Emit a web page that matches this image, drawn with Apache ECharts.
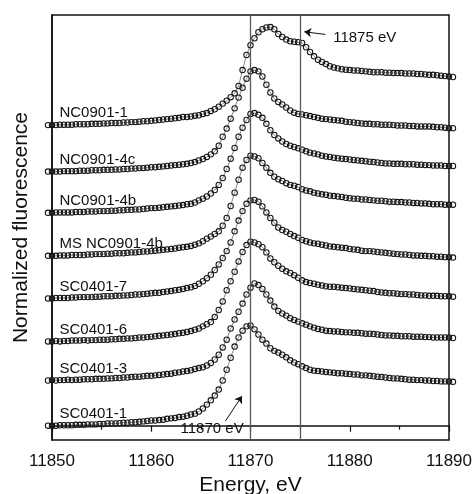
<!DOCTYPE html>
<html>
<head>
<meta charset="utf-8">
<script src="https://cdn.jsdelivr.net/npm/echarts@6/dist/echarts.min.js"></script>
<style>
  html, body { margin: 0; padding: 0; background: #fff; }
  #chart { width: 476px; height: 494px; }
</style>
</head>
<body>
<div id="chart"></div>
<script>
// Scan grid: 0.4 eV steps from 11849.6 to 11890.4 eV
const energy = [];
for (let i = 0; i < 103; i++) energy.push(+(11849.6 + 0.4 * i).toFixed(1));

// Normalized fluorescence of each sample (one value per scan point)
const sc0401_1 = [
  0.00,0.00,0.00,0.01,0.01,0.01,0.01,0.02,0.02,0.02,
  0.03,0.03,0.03,0.04,0.04,0.05,0.05,0.05,0.06,0.07,
  0.07,0.08,0.08,0.09,0.10,0.11,0.12,0.12,0.13,0.14,
  0.16,0.17,0.18,0.20,0.21,0.23,0.26,0.28,0.33,0.40,
  0.49,0.59,0.70,0.84,1.05,1.30,1.58,1.84,2.05,2.21,
  2.31,2.33,2.24,2.12,2.00,1.91,1.80,1.74,1.70,1.65,
  1.59,1.52,1.47,1.43,1.38,1.34,1.30,1.28,1.27,1.26,
  1.25,1.24,1.23,1.22,1.22,1.21,1.20,1.19,1.19,1.17,
  1.17,1.16,1.15,1.14,1.13,1.12,1.11,1.10,1.10,1.09,
  1.08,1.07,1.07,1.06,1.06,1.05,1.05,1.04,1.04,1.03,
  1.03,1.03,1.02];
const sc0401_3 = [
  0.00,0.01,0.00,0.01,0.01,0.02,0.01,0.02,0.02,0.03,
  0.03,0.03,0.04,0.04,0.04,0.05,0.05,0.06,0.06,0.07,
  0.07,0.08,0.09,0.09,0.10,0.11,0.11,0.12,0.13,0.14,
  0.15,0.16,0.18,0.19,0.21,0.22,0.24,0.27,0.29,0.31,
  0.35,0.41,0.49,0.60,0.77,0.95,1.21,1.42,1.60,1.79,
  2.00,2.16,2.26,2.22,2.13,2.00,1.86,1.72,1.62,1.56,
  1.51,1.45,1.41,1.37,1.33,1.30,1.26,1.23,1.20,1.18,
  1.16,1.15,1.14,1.14,1.13,1.12,1.12,1.11,1.11,1.10,
  1.09,1.09,1.08,1.07,1.06,1.05,1.05,1.04,1.04,1.03,
  1.03,1.03,1.02,1.02,1.02,1.01,1.01,1.00,1.00,1.00,
  1.00,1.00,0.99];
const sc0401_6 = [
  0.00,0.00,0.01,0.00,0.01,0.01,0.02,0.02,0.02,0.03,
  0.02,0.03,0.03,0.04,0.04,0.04,0.05,0.05,0.06,0.06,
  0.07,0.07,0.08,0.09,0.09,0.10,0.11,0.12,0.13,0.14,
  0.15,0.16,0.17,0.19,0.20,0.22,0.24,0.27,0.30,0.35,
  0.40,0.45,0.57,0.73,0.93,1.19,1.40,1.62,1.86,2.08,
  2.24,2.32,2.30,2.26,2.19,2.07,1.93,1.84,1.76,1.69,
  1.63,1.59,1.54,1.48,1.42,1.38,1.36,1.34,1.32,1.30,
  1.28,1.27,1.27,1.26,1.25,1.24,1.23,1.22,1.21,1.20,
  1.19,1.18,1.17,1.15,1.14,1.13,1.12,1.12,1.11,1.10,
  1.10,1.09,1.09,1.08,1.07,1.07,1.06,1.06,1.06,1.05,
  1.05,1.05,1.04];
const sc0401_7 = [
  0.00,0.00,0.01,0.01,0.01,0.01,0.02,0.02,0.03,0.03,
  0.03,0.03,0.04,0.04,0.05,0.05,0.05,0.06,0.06,0.07,
  0.07,0.08,0.09,0.09,0.10,0.11,0.12,0.13,0.13,0.15,
  0.16,0.17,0.19,0.20,0.22,0.24,0.26,0.29,0.34,0.40,
  0.47,0.55,0.66,0.79,0.94,1.10,1.30,1.56,1.81,2.03,
  2.20,2.28,2.29,2.25,2.14,2.00,1.87,1.76,1.65,1.59,
  1.55,1.50,1.45,1.41,1.36,1.33,1.30,1.28,1.27,1.25,
  1.23,1.21,1.20,1.19,1.18,1.17,1.15,1.14,1.13,1.11,
  1.10,1.10,1.09,1.08,1.07,1.06,1.05,1.04,1.03,1.02,
  1.02,1.01,1.00,1.00,0.99,0.99,0.98,0.98,0.97,0.97,
  0.96,0.96,0.95];
const ms_nc0901_4b = [
  0.00,0.00,0.00,0.01,0.01,0.01,0.02,0.02,0.02,0.02,
  0.03,0.03,0.04,0.04,0.04,0.05,0.05,0.06,0.06,0.06,
  0.07,0.08,0.08,0.09,0.10,0.10,0.11,0.12,0.13,0.14,
  0.15,0.16,0.17,0.19,0.20,0.21,0.23,0.26,0.29,0.34,
  0.40,0.45,0.51,0.57,0.70,0.88,1.16,1.47,1.77,2.05,
  2.23,2.33,2.31,2.27,2.16,2.05,1.93,1.84,1.78,1.74,
  1.69,1.65,1.63,1.60,1.55,1.52,1.50,1.47,1.45,1.43,
  1.42,1.40,1.39,1.38,1.37,1.35,1.34,1.33,1.33,1.31,
  1.31,1.30,1.29,1.28,1.28,1.27,1.26,1.26,1.25,1.25,
  1.24,1.24,1.23,1.23,1.22,1.22,1.21,1.20,1.20,1.20,
  1.19,1.19,1.19];
const nc0901_4b = [
  0.00,0.00,0.01,0.01,0.01,0.01,0.01,0.02,0.02,0.02,
  0.03,0.03,0.03,0.04,0.04,0.04,0.05,0.05,0.06,0.06,
  0.07,0.07,0.08,0.08,0.09,0.10,0.11,0.11,0.12,0.13,
  0.14,0.15,0.16,0.17,0.18,0.20,0.21,0.24,0.29,0.33,
  0.38,0.45,0.53,0.65,0.81,1.02,1.26,1.51,1.77,1.98,
  2.16,2.30,2.32,2.28,2.21,2.07,1.92,1.81,1.73,1.66,
  1.60,1.56,1.53,1.50,1.47,1.43,1.40,1.38,1.36,1.33,
  1.31,1.30,1.28,1.27,1.26,1.25,1.24,1.23,1.22,1.21,
  1.20,1.19,1.18,1.17,1.16,1.15,1.15,1.14,1.14,1.14,
  1.13,1.13,1.13,1.12,1.12,1.11,1.11,1.10,1.10,1.10,
  1.09,1.09,1.09];
const nc0901_4c = [
  0.00,0.00,0.00,0.00,0.01,0.01,0.01,0.01,0.02,0.02,
  0.02,0.03,0.03,0.03,0.04,0.04,0.04,0.05,0.05,0.06,
  0.06,0.07,0.07,0.08,0.08,0.09,0.10,0.10,0.11,0.12,
  0.13,0.14,0.15,0.16,0.17,0.18,0.20,0.22,0.26,0.29,
  0.34,0.40,0.47,0.60,0.81,1.00,1.23,1.47,1.72,1.95,
  2.16,2.33,2.36,2.33,2.21,2.02,1.84,1.70,1.62,1.56,
  1.49,1.42,1.37,1.34,1.33,1.31,1.29,1.27,1.25,1.23,
  1.22,1.21,1.20,1.19,1.18,1.16,1.15,1.14,1.13,1.12,
  1.11,1.11,1.10,1.10,1.09,1.09,1.09,1.08,1.07,1.07,
  1.07,1.06,1.06,1.05,1.05,1.05,1.05,1.04,1.03,1.03,
  1.02,1.01,1.01];
const nc0901_1 = [
  0.00,0.00,0.00,0.01,0.01,0.01,0.01,0.02,0.02,0.02,
  0.02,0.03,0.03,0.03,0.04,0.04,0.05,0.05,0.05,0.06,
  0.06,0.07,0.07,0.08,0.09,0.09,0.10,0.11,0.12,0.13,
  0.14,0.15,0.16,0.17,0.19,0.19,0.20,0.22,0.23,0.26,
  0.28,0.33,0.37,0.43,0.50,0.57,0.65,0.74,0.91,1.28,
  1.63,1.86,2.02,2.16,2.23,2.27,2.28,2.23,2.12,2.05,
  1.99,1.95,1.94,1.93,1.91,1.81,1.70,1.60,1.52,1.47,
  1.42,1.37,1.34,1.32,1.30,1.29,1.28,1.27,1.27,1.26,
  1.25,1.24,1.23,1.23,1.23,1.22,1.22,1.21,1.21,1.21,
  1.20,1.20,1.20,1.19,1.19,1.18,1.17,1.17,1.16,1.15,
  1.14,1.13,1.12];

// Sample names (bottom to top) and the vertical offset added to each trace
const sampleNames = ['SC0401-1', 'SC0401-3', 'SC0401-6', 'SC0401-7',
                     'MS NC0901-4b', 'NC0901-4b', 'NC0901-4c', 'NC0901-1'];
const sampleValues = [sc0401_1, sc0401_3, sc0401_6, sc0401_7,
                      ms_nc0901_4b, nc0901_4b, nc0901_4c, nc0901_1];
const offsets = [0, 1.05, 1.96, 2.96, 3.95, 4.95, 5.91, 6.99];

// Reference energies marked on the plot
const markerEnergies = [11870, 11875];
const xTicks = [11850, 11860, 11870, 11880, 11890];

const FONT = '"Liberation Sans", Arial, Helvetica, sans-serif';
const INK = '#111';

const series = sampleNames.map((name, k) => ({
  type: 'line',
  name: name,
  data: energy.map((e, i) => [e, +(sampleValues[k][i] + offsets[k]).toFixed(3)]),
  clip: false,
  symbol: 'circle',
  symbolSize: 5.4,
  showAllSymbol: true,
  lineStyle: { color: '#555', width: 0.7 },
  itemStyle: { color: 'rgba(255,255,255,0)', borderColor: '#141414', borderWidth: 1.05 },
  emphasis: { disabled: true },
  z: 3,
  markPoint: {
    silent: true,
    symbol: 'circle',
    symbolSize: 1,
    itemStyle: { color: 'rgba(0,0,0,0)' },
    label: {
      show: true, position: 'right', distance: 0,
      fontFamily: FONT, fontSize: 15, color: INK
    },
    data: [{ coord: [11850.7, offsets[k] + 0.28], label: { formatter: name } }]
  }
}));

// Vertical reference lines at the marked energies
series[0].markLine = {
  silent: true,
  symbol: 'none',
  label: { show: false },
  lineStyle: { color: '#5a5a5a', width: 1.3, type: 'solid' },
  data: markerEnergies.map(e => ({ xAxis: e }))
};

// Arrows pointing at the marked energies
series[1].markLine = {
  silent: true,
  symbol: ['none', 'arrow'],
  symbolSize: 7,
  label: { show: false },
  lineStyle: { color: INK, width: 1, type: 'solid' },
  data: [
    [{ coord: [11877.54, 9.10] }, { coord: [11875.42, 9.16] }],
    [{ coord: [11867.48, 0.11] }, { coord: [11869.14, 0.69] }]
  ]
};
series[1].markPoint.data.push(
  { coord: [11878.28, 9.02], label: { formatter: markerEnergies[1] + ' eV' } },
  { coord: [11862.90, -0.08], label: { formatter: markerEnergies[0] + ' eV' } }
);

const chart = echarts.init(document.getElementById('chart'), null, { renderer: 'canvas' });
chart.setOption({
  animation: false,
  backgroundColor: '#fff',
  grid: {
    left: 52, right: 27, top: 15, bottom: 54,
    containLabel: false,
    outerBoundsMode: 'none',
    show: true, borderColor: INK, borderWidth: 1.5, backgroundColor: 'rgba(0,0,0,0)'
  },
  xAxis: {
    type: 'value',
    min: xTicks[0], max: xTicks[xTicks.length - 1], interval: 10,
    name: 'Energy, eV',
    nameLocation: 'middle',
    nameGap: 32,
    nameTextStyle: { fontFamily: FONT, fontSize: 21, color: INK },
    axisLine: { show: true, lineStyle: { color: INK, width: 1.5 } },
    axisTick: { show: true, length: 6, inside: false, lineStyle: { color: INK, width: 1.2 } },
    minorTick: { show: true, splitNumber: 2, length: 4, lineStyle: { color: INK, width: 1.2 } },
    axisLabel: { fontFamily: FONT, fontSize: 17, color: INK, margin: 13,
                 formatter: v => String(v) },
    splitLine: { show: false }
  },
  yAxis: {
    type: 'value',
    min: -0.333, max: 9.551,
    name: 'Normalized fluorescence',
    nameLocation: 'middle',
    nameGap: 20,
    nameTextStyle: { fontFamily: FONT, fontSize: 21, color: INK },
    axisLine: { show: true, lineStyle: { color: INK, width: 1.5 } },
    axisTick: { show: false },
    axisLabel: { show: false },
    splitLine: { show: false }
  },
  series: series
});
</script>
</body>
</html>
